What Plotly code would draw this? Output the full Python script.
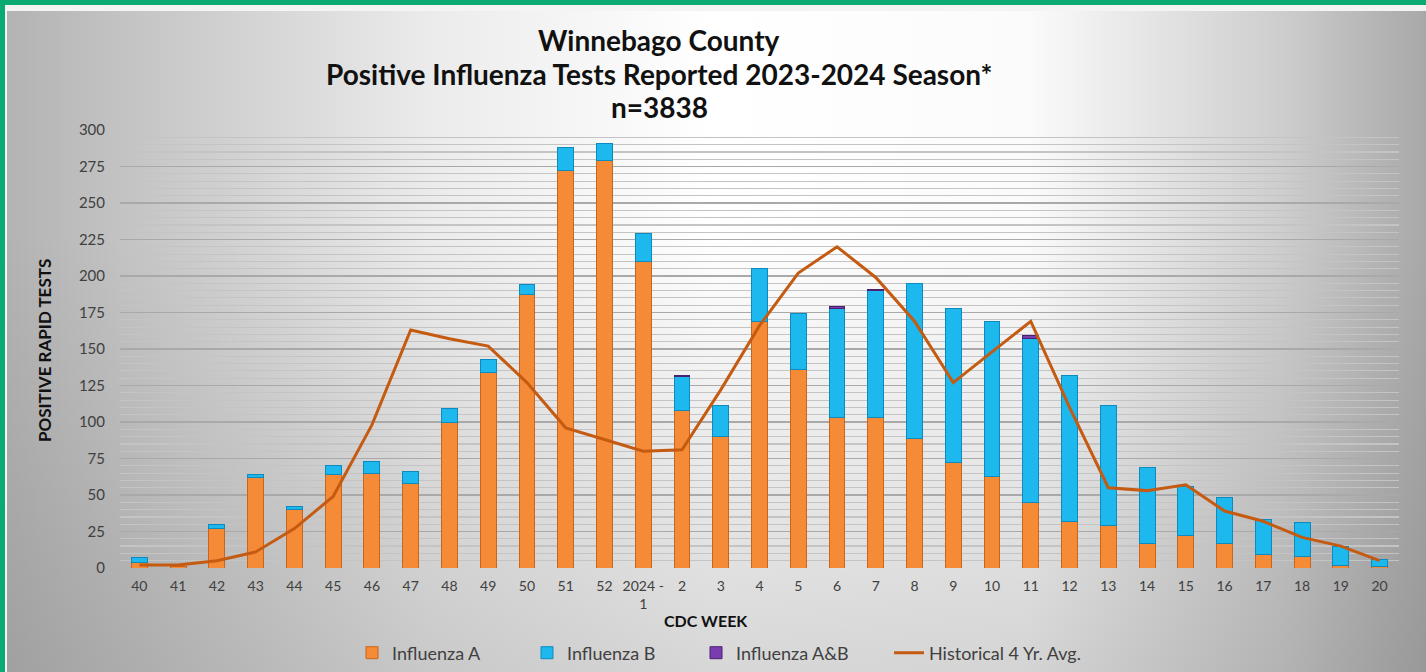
import base64
import plotly.graph_objects as go

# ---------------- data ----------------
weeks = ["40", "41", "42", "43", "44", "45", "46", "47", "48", "49", "50", "51", "52",
         "2024 -<br>1", "2", "3", "4", "5", "6", "7", "8", "9", "10", "11", "12", "13",
         "14", "15", "16", "17", "18", "19", "20"]
flu_a = [4, 1, 27, 62, 40, 64, 65, 58, 100, 134, 187, 272, 279,
         210, 108, 90, 169, 136, 103, 103, 89, 72, 63, 45, 32, 29,
         17, 22, 17, 9, 8, 2, 1]
flu_b = [3, 0, 3, 2, 2, 6, 8, 8, 9, 9, 7, 16, 12,
         19, 23, 21, 36, 38, 75, 87, 106, 106, 106, 112, 100, 82,
         52, 34, 31, 24, 23, 13, 5]
flu_ab = [0, 0, 0, 0, 0, 0, 0, 0, 0, 0, 0, 0, 0,
          0, 1, 0, 0, 0, 1, 1, 0, 0, 0, 2, 0, 0,
          0, 0, 0, 0, 0, 0, 0]
hist_avg = [2, 2, 5, 11, 27, 49, 98, 163, 157, 152, 127, 96, 88,
            80, 81, 122, 166, 202, 220, 199, 169, 127, 148, 169, 110, 55,
            53, 57, 39, 32, 21, 15, 5]

title_lines = ["Winnebago County",
               "Positive Influenza Tests Reported 2023-2024 Season*",
               "n=3838"]
y_title = "POSITIVE RAPID TESTS"
x_title = "CDC WEEK"

# ---------------- geometry (pixels) ----------------
W, H = 1426, 672
L, R, T, B = 120, 1399, 130, 568
PW, PH = R - L, B - T


def px(x):
    return (x - L) / PW


def py(y):
    return (B - y) / PH


def cx(x):
    return x / W


def cy(y):
    return (H - y) / H


FONT = "Lato, 'Open Sans', sans-serif"
TXT = "#404040"


def nz(v):
    return [None if a == 0 else a for a in v]


fig = go.Figure()
fig.add_bar(x=weeks, y=nz(flu_a), name="Influenza A", legend="legend",
            marker=dict(color="#F68B37", line=dict(color="#C8651E", width=1)))
fig.add_bar(x=weeks, y=nz(flu_b), name="Influenza B", legend="legend2",
            marker=dict(color="#1CB8EE", line=dict(color="#0E8BBE", width=1)))
fig.add_bar(x=weeks, y=nz(flu_ab), name="Influenza A&B", legend="legend3",
            marker=dict(color="#7A3DB0", line=dict(color="#4B2070", width=1)))
fig.add_scatter(x=weeks, y=hist_avg, name="Historical 4 Yr. Avg.", mode="lines",
                legend="legend4", line=dict(color="#C55A11", width=3))

# background gradient (pure styling)
svg = f"""<svg xmlns='http://www.w3.org/2000/svg' width='{W}' height='{H}'>
<defs>
<linearGradient id='h' x1='0' y1='0' x2='1' y2='0'>
<stop offset='0' stop-color='#b2b2b2'/>
<stop offset='0.08' stop-color='#c2c2c2'/>
<stop offset='0.3' stop-color='#ebebeb'/>
<stop offset='0.5' stop-color='#ffffff'/>
<stop offset='0.72' stop-color='#fbfbfb'/>
<stop offset='0.9' stop-color='#cdcdcd'/>
<stop offset='1' stop-color='#a8a8a8'/>
</linearGradient>
<linearGradient id='v' x1='0' y1='0' x2='0' y2='1'>
<stop offset='0.35' stop-color='#707070' stop-opacity='0'/>
<stop offset='1' stop-color='#707070' stop-opacity='0.28'/>
</linearGradient>
</defs>
<rect width='{W}' height='{H}' fill='url(#h)'/>
<rect width='{W}' height='{H}' fill='url(#v)'/>
</svg>"""
src = "data:image/svg+xml;base64," + base64.b64encode(svg.encode()).decode()
fig.add_layout_image(source=src, xref="paper", yref="paper", x=px(0), y=py(0),
                     sizex=W / PW, sizey=H / PH, xanchor="left", yanchor="top",
                     sizing="stretch", layer="below")

# green frame with light inner edge
GREEN = "#0BAA72"
fig.add_shape(type="rect", xref="paper", yref="paper", x0=px(0), x1=px(W), y0=py(0), y1=py(11),
              fillcolor="#f4f4f4", line_width=0, layer="above")
fig.add_shape(type="rect", xref="paper", yref="paper", x0=px(0), x1=px(7), y0=py(0), y1=py(H),
              fillcolor="#f4f4f4", line_width=0, layer="above")
fig.add_shape(type="rect", xref="paper", yref="paper", x0=px(0), x1=px(W), y0=py(0), y1=py(5),
              fillcolor=GREEN, line_width=0, layer="above")
fig.add_shape(type="rect", xref="paper", yref="paper", x0=px(0), x1=px(5), y0=py(0), y1=py(H),
              fillcolor=GREEN, line_width=0, layer="above")

# titles
for text, yy in zip(title_lines, [40, 74, 107]):
    fig.add_annotation(text=f"<b>{text}</b>", xref="paper", yref="paper", x=px(659), y=py(yy),
                       xanchor="center", yanchor="middle", showarrow=False,
                       font=dict(family=FONT, size=28, color="#111111"))
fig.add_annotation(text=f"<b>{y_title}</b>", xref="paper", yref="paper", x=px(44), y=py(351),
                   xanchor="center", yanchor="middle", textangle=-90, showarrow=False,
                   font=dict(family=FONT, size=17, color="#111111"))
fig.add_annotation(text=f"<b>{x_title}</b>", xref="paper", yref="paper", x=px(706), y=py(620),
                   xanchor="center", yanchor="middle", showarrow=False,
                   font=dict(family=FONT, size=16, color="#111111"))

legend_common = dict(orientation="h", xref="container", yref="container", y=cy(653),
                     xanchor="left", yanchor="middle",
                     bgcolor="rgba(0,0,0,0)", font=dict(family=FONT, size=18, color=TXT),
                     itemwidth=30)

fig.update_layout(
    width=W, height=H, autosize=False,
    margin=dict(l=L, r=W - R, t=T, b=H - B, autoexpand=False),
    paper_bgcolor="#ffffff", plot_bgcolor="rgba(0,0,0,0)",
    barmode="stack", bargap=0.59,
    font=dict(family=FONT, color=TXT),
    showlegend=True,
    legend=dict(x=cx(352), **legend_common),
    legend2=dict(x=cx(527), **legend_common),
    legend3=dict(x=cx(696), **legend_common),
    legend4=dict(x=cx(889), **legend_common),
)
fig.update_xaxes(type="category", showgrid=False, showline=False, zeroline=False,
                 ticks="", tickfont=dict(family=FONT, size=14, color=TXT),
                 ticklabelstandoff=8, tickangle=0, fixedrange=True, automargin=False)
fig.update_yaxes(range=[0, 300], dtick=25, tick0=0, showline=False, zeroline=False,
                 gridcolor="#a9a9a9", gridwidth=1.5,
                 minor=dict(dtick=5, showgrid=True, gridcolor="#c4c4c4", gridwidth=1.2),
                 tickfont=dict(family=FONT, size=15, color=TXT), ticklabelstandoff=14,
                 fixedrange=True, automargin=False)

fig.write_html("out.html",
               config=dict(responsive=False, displayModeBar=False, staticPlot=True),
               post_script="document.body.style.margin='0';document.body.style.overflow='hidden';")
